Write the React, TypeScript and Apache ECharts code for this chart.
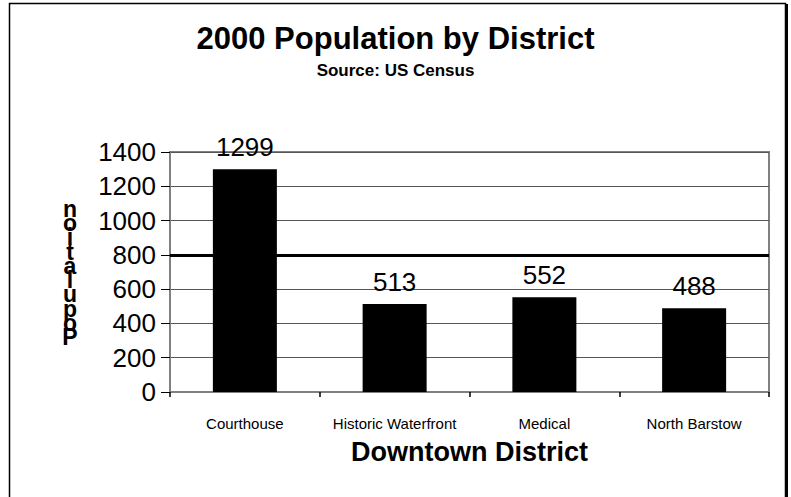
import React, { useEffect, useRef } from "react";
import * as echarts from "echarts";

const categories = ["Courthouse", "Historic Waterfront", "Medical", "North Barstow"];
const populations = [1299, 513, 552, 488];
const highlightLevel = [800];
const yTitleLetters = ["n", "o", "i", "t", "a", "l", "u", "p", "o", "P"];

const FONT = "'Liberation Sans', Arial, Helvetica, sans-serif";

export default function App() {
  const ref = useRef<HTMLDivElement>(null);
  useEffect(() => {
    if (!ref.current) return;
    const chart = echarts.init(ref.current, undefined, { renderer: "svg" });
    chart.setOption({
      animation: false,
      backgroundColor: "#ffffff",
      textStyle: { fontFamily: FONT },
      title: {
        text: "2000 Population by District",
        subtext: "Source: US Census",
        left: "center",
        top: 18,
        itemGap: 8,
        textStyle: { fontFamily: FONT, fontWeight: "bold", fontSize: 31, color: "#000" },
        subtextStyle: { fontFamily: FONT, fontWeight: "bold", fontSize: 17, color: "#000" },
      },
      graphic: [
        {
          type: "rect",
          shape: { x: 9.5, y: 3.5, width: 776, height: 520 },
          style: { fill: "none", stroke: "#000", lineWidth: 1.5 },
          z: 0,
        },
        {
          type: "rect",
          shape: { x: 785, y: 4, width: 3, height: 520 },
          style: { fill: "#000" },
          z: 0,
        },
        {
          type: "text",
          x: 70,
          y: 273,
          style: {
            text: yTitleLetters.join("\n"),
            fontFamily: FONT,
            fontWeight: "bold",
            fontSize: 23,
            lineHeight: 14.3,
            align: "center",
            verticalAlign: "middle",
            fill: "#000",
          },
          z: 10,
        },
      ],
      grid: {
        left: 170,
        top: 152,
        right: 22,
        bottom: 105,
        show: true,
        borderColor: "#808080",
        borderWidth: 2,
        backgroundColor: "transparent",
      },
      xAxis: {
        type: "category",
        data: categories,
        name: "Downtown District",
        nameLocation: "middle",
        nameGap: 46,
        nameTextStyle: { fontFamily: FONT, fontWeight: "bold", fontSize: 27, color: "#000" },
        axisLine: { lineStyle: { color: "#808080", width: 2 } },
        axisTick: { show: true, length: 5, lineStyle: { color: "#000", width: 1.5 } },
        axisLabel: { fontFamily: FONT, fontSize: 15, color: "#000", margin: 24, interval: 0 },
        splitLine: { show: false },
      },
      yAxis: {
        type: "value",
        min: 0,
        max: 1400,
        interval: 200,
        axisLine: { show: true, lineStyle: { color: "#808080", width: 2 } },
        axisTick: { show: true, length: 9, lineStyle: { color: "#000", width: 1 } },
        axisLabel: {
          fontFamily: FONT,
          fontSize: 26,
          color: "#000",
          margin: 14,
          formatter: (v: number) => String(v),
        },
        splitLine: { show: true, lineStyle: { color: "#555", width: 1 } },
      },
      series: [
        {
          type: "bar",
          data: populations,
          barWidth: 64,
          itemStyle: { color: "#000" },
          label: {
            show: true,
            position: "top",
            distance: 9,
            fontFamily: FONT,
            fontSize: 26,
            color: "#000",
          },
          markLine: {
            silent: true,
            symbol: "none",
            label: { show: false },
            lineStyle: { color: "#000", width: 3, type: "solid" },
            data: highlightLevel.map((v) => ({ yAxis: v })),
          },
        },
      ],
    });
    return () => chart.dispose();
  }, []);
  return (
    <div
      ref={ref}
      style={{ position: "fixed", left: 0, top: 0, width: 791, height: 497 }}
    />
  );
}
